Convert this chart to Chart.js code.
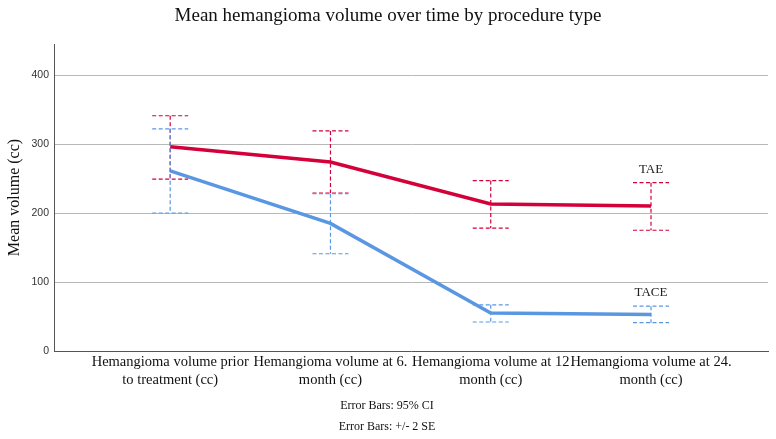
<!DOCTYPE html>
<html>
<head>
<meta charset="utf-8">
<script src="https://cdn.jsdelivr.net/npm/chart.js@4"></script>
<style>
  html, body { margin: 0; padding: 0; background: #fff; }
  #wrap { width: 776px; height: 439px; position: relative; }
</style>
</head>
<body>
<div id="wrap"><canvas id="c" width="776" height="439"></canvas></div>
<script>
const chartTitle = 'Mean hemangioma volume over time by procedure type';
const yAxisTitle = 'Mean volume (cc)';
const categories = [
  ['Hemangioma volume prior', 'to treatment (cc)'],
  ['Hemangioma volume at 6.', 'month (cc)'],
  ['Hemangioma volume at 12', 'month (cc)'],
  ['Hemangioma volume at 24.', 'month (cc)']
];
const seriesNames = ['TAE', 'TACE'];
const taeMean  = [296, 274, 213, 210];
const taeLower = [249, 229, 178, 175];
const taeUpper = [341, 319, 247, 244];
const taceMean  = [261, 185, 55, 53];
const taceLower = [200, 141, 42, 41];
const taceUpper = [322, 228, 67, 65];
const yTicks = [0, 100, 200, 300, 400];
const footnotes = ['Error Bars: 95% CI', 'Error Bars: +/- 2 SE'];

const RED = '#d3003a';
const BLUE = '#5a97e3';

function pts(arr) { return arr.map((v, i) => ({ x: i, y: v })); }

const errorBarPlugin = {
  id: 'errorBars',
  afterDatasetsDraw(chart) {
    const ctx = chart.ctx;
    const xs = chart.scales.x, ys = chart.scales.y;
    chart.data.datasets.forEach(ds => {
      ctx.save();
      ctx.strokeStyle = ds.borderColor;
      ctx.lineWidth = 1.2;
      ctx.setLineDash([4, 2.5]);
      ds.lower.forEach((lo, i) => {
        const hi = ds.upper[i];
        const x = xs.getPixelForValue(i);
        const yl = ys.getPixelForValue(lo);
        const yh = ys.getPixelForValue(hi);
        ctx.beginPath();
        ctx.moveTo(x, yh); ctx.lineTo(x, yl);
        ctx.moveTo(x - 18, yh); ctx.lineTo(x + 18, yh);
        ctx.moveTo(x - 18, yl); ctx.lineTo(x + 18, yl);
        ctx.stroke();
      });
      ctx.restore();
      const last = ds.upper.length - 1;
      ctx.save();
      ctx.fillStyle = '#222';
      ctx.font = '13px "Liberation Serif", serif';
      ctx.textAlign = 'center';
      ctx.textBaseline = 'middle';
      ctx.fillText(ds.label, xs.getPixelForValue(last), ys.getPixelForValue(ds.upper[last]) - 13.5);
      ctx.restore();
    });
  },
  afterDraw(chart) {
    const ctx = chart.ctx;
    ctx.save();
    ctx.fillStyle = '#111';
    ctx.textAlign = 'center';
    ctx.textBaseline = 'middle';
    ctx.font = '19px "Liberation Serif", serif';
    ctx.fillText(chartTitle, 388, 16);
    ctx.font = '12px "Liberation Serif", serif';
    ctx.fillText(footnotes[0], 387, 406);
    ctx.fillText(footnotes[1], 387, 427);
    ctx.restore();
  }
};

new Chart(document.getElementById('c'), {
  type: 'line',
  data: {
    datasets: [
      { label: seriesNames[0], data: pts(taeMean), lower: taeLower, upper: taeUpper,
        borderColor: RED, backgroundColor: RED, borderWidth: 3.5, pointRadius: 0, tension: 0 },
      { label: seriesNames[1], data: pts(taceMean), lower: taceLower, upper: taceUpper,
        borderColor: BLUE, backgroundColor: BLUE, borderWidth: 3.5, pointRadius: 0, tension: 0 }
    ]
  },
  options: {
    responsive: false,
    animation: false,
    devicePixelRatio: 1,
    layout: { padding: { top: 44, left: 0, right: 8, bottom: 0 } },
    plugins: { legend: { display: false }, tooltip: { enabled: false }, title: { display: false } },
    scales: {
      x: {
        type: 'linear',
        min: -0.725,
        max: 3.73,
        afterFit(s) { s.height = 88; },
        afterBuildTicks(s) { s.ticks = categories.map((c, i) => ({ value: i })); },
        ticks: {
          autoSkip: false, maxRotation: 0, padding: 2,
          color: '#111',
          font: { family: '"Liberation Serif", serif', size: 14.5, lineHeight: 1.25 },
          callback: (v) => categories[v]
        },
        grid: { display: false, drawTicks: false },
        border: { display: true, color: '#555', width: 1 }
      },
      y: {
        min: 0,
        max: 445,
        afterFit(s) { s.width = 54; },
        afterBuildTicks(s) { s.ticks = yTicks.map(v => ({ value: v })); },
        ticks: {
          padding: 5, color: '#333',
          font: { family: '"Liberation Sans", Arial, sans-serif', size: 10.5 }
        },
        grid: {
          drawTicks: false,
          color: (c) => c.tick && c.tick.value === 0 ? 'rgba(0,0,0,0)' : '#b8b8b8'
        },
        border: { display: true, color: '#555', width: 1 },
        title: {
          display: true, text: yAxisTitle, color: '#111',
          font: { family: '"Liberation Serif", serif', size: 16 },
          padding: { top: 5, bottom: 0 }
        }
      }
    }
  },
  plugins: [errorBarPlugin]
});
</script>
</body>
</html>
